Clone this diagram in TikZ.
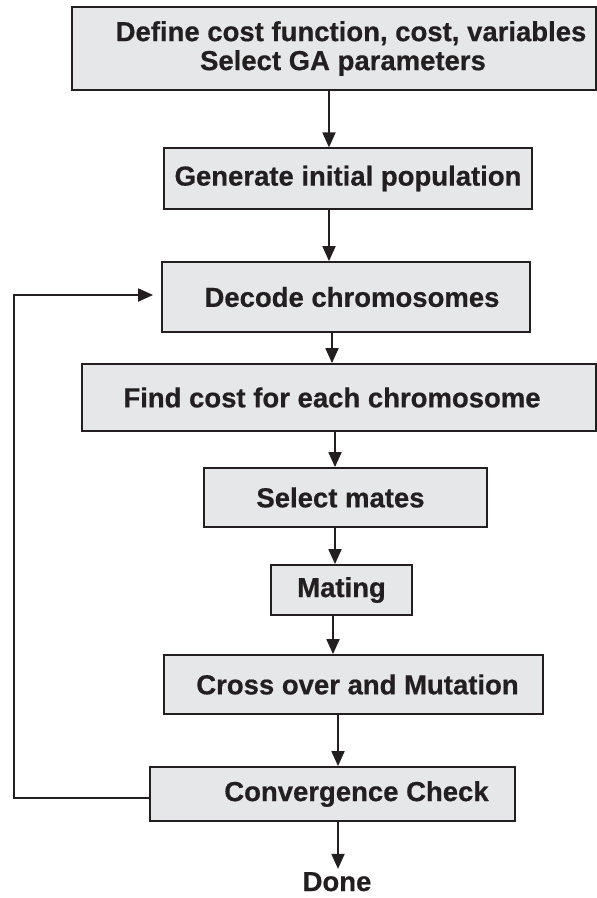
\documentclass[tikz,border=0pt]{standalone}
\usepackage{fontspec}
\setmainfont{Liberation Sans}[BoldFeatures={FakeBold=0.6}]
\usetikzlibrary{arrows.meta,positioning}
\definecolor{GAInk}{HTML}{231F20}
\definecolor{GAFill}{HTML}{E6E7E8}

\begin{document}
\begin{tikzpicture}[x=1pt,y=-1pt,
    stage/.style={draw=GAInk,fill=GAFill,line width=1.8pt,inner sep=0pt,
      font=\fontsize{27.5}{29}\selectfont\bfseries,text=GAInk,align=center},
    flow/.style={draw=GAInk,line width=1.8pt,
      -{Triangle[length=15pt,width=13pt]}}
  ]
  \useasboundingbox (0,0) rectangle (597,898);
  % the stages, top to bottom
  \node[stage,minimum width=524pt,minimum height=83pt] (define) at (334,48.5)
    {\hspace*{34pt}Define cost function, cost, variables\\
     \hspace*{18pt}Select GA parameters};
  \node[stage,line width=1.2pt,minimum width=368pt,minimum height=61pt]
    (generate) at (348,178.5) {Generate initial population};
  \node[stage,minimum width=368pt,minimum height=70pt] (decode) at (346,297)
    {\hspace*{12pt}Decode chromosomes};
  \node[stage,minimum width=514pt,minimum height=67pt] (cost) at (339,397.5)
    {Find cost for each chromosome\hspace*{14pt}};
  \node[stage,minimum width=283pt,minimum height=59pt] (select) at (345.5,497.5)
    {Select mates\hspace*{10pt}};
  \node[stage,minimum width=141pt,minimum height=50pt] (mating) at (341.5,590)
    {Mating};
  \node[stage,minimum width=379pt,minimum height=59pt] (cross) at (353.5,684.5)
    {\hspace*{8pt}Cross over and Mutation};
  \node[stage,minimum width=365pt,minimum height=54pt] (converge) at (332.5,794)
    {\hspace*{48pt}Convergence Check};
  \node[font=\fontsize{27.5}{29}\selectfont\bfseries,text=GAInk,inner sep=0pt,
    anchor=base] (done) at (337,891) {Done};
  % main flow
  \draw[flow] (329,0 |- define.south) -- (329,0 |- generate.north);
  \draw[flow] (329,0 |- generate.south) -- (329,0 |- decode.north);
  \draw[flow] (332,0 |- decode.south) -- (332,0 |- cost.north);
  \draw[flow] (335,0 |- cost.south) -- (335,0 |- select.north);
  \draw[flow] (335,0 |- select.south) -- (335,0 |- mating.north);
  \draw[flow] (333,0 |- mating.south) -- (333,0 |- cross.north);
  \draw[flow] (338,0 |- cross.south) -- (338,0 |- converge.north);
  \draw[flow,shorten >=3pt] (338,0 |- converge.south) -- (338,0 |- done.north);
  % loop back
  \draw[flow] ([yshift=-4pt]converge.west) -- ++(-135,0)
    |- ([xshift=-8pt,yshift=2pt]decode.west);
\end{tikzpicture}
\end{document}
